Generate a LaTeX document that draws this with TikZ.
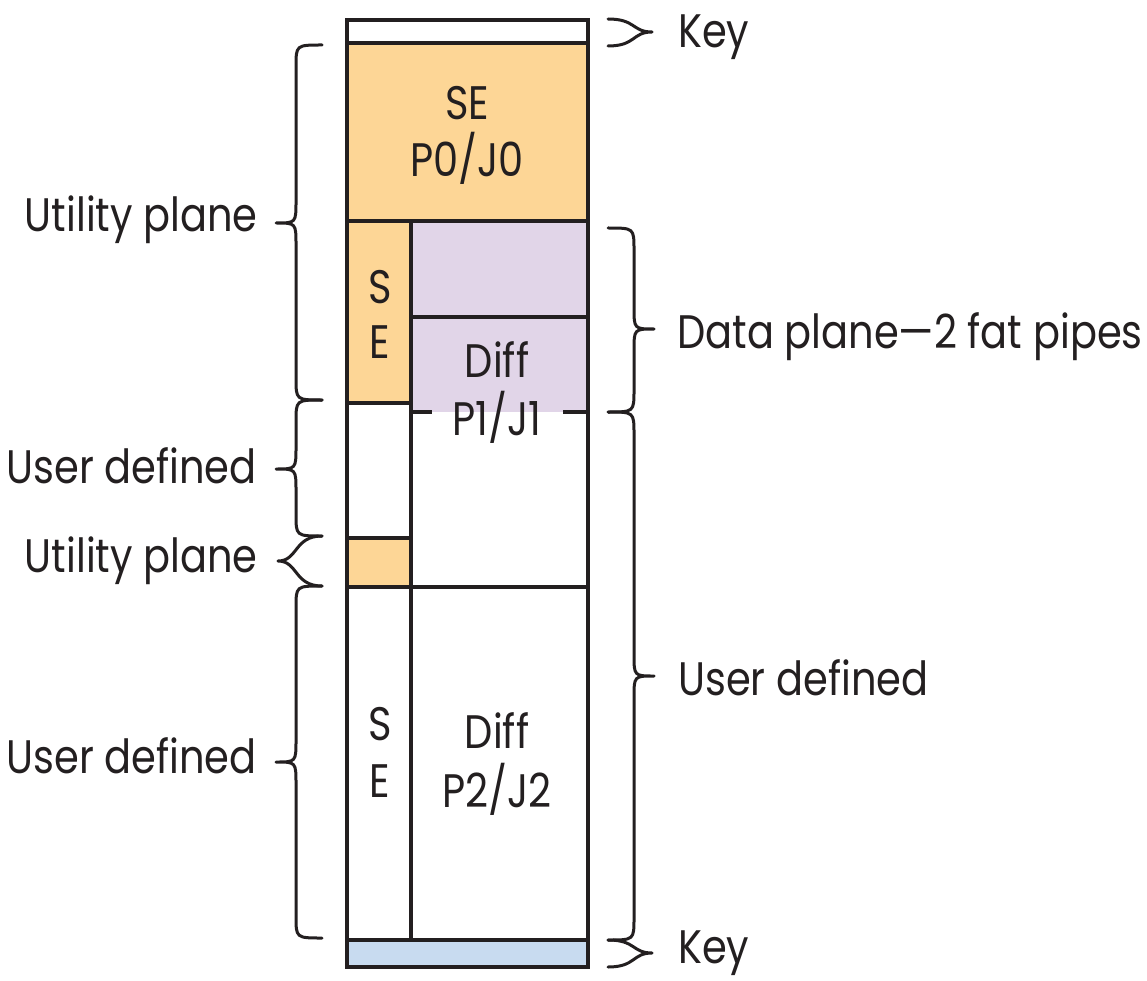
\documentclass[tikz,border=0pt]{standalone}
\usepackage{fontspec}
\setmainfont{Poppins}[FakeStretch=0.85]
\definecolor{orng}{RGB}{253,214,150}
\definecolor{purp}{RGB}{225,213,232}
\definecolor{blu}{RGB}{200,219,240}
\definecolor{ink}{RGB}{35,31,32}
% #1 x of ends, #2 direction (1 = points right, -1 = points left), #3 top y, #4 tip y, #5 bottom y, #6 curl radius
\newcommand{\curlybr}[6]{%
  \draw[bracestyle] (#1,#3) .. controls ({#1+(#2)*26},#3) .. ({#1+(#2)*26},{#3+#6})
    -- ({#1+(#2)*26},{#4-#6}) .. controls ({#1+(#2)*26},#4) .. ({#1+(#2)*46},#4)
    .. controls ({#1+(#2)*26},#4) .. ({#1+(#2)*26},{#4+#6})
    -- ({#1+(#2)*26},{#5-#6}) .. controls ({#1+(#2)*26},#5) .. (#1,#5);}
% small brace, shaped like an angle bracket with curled arms
\newcommand{\smallbr}[5]{%
  \draw[bracestyle] (#1,#3) .. controls ({#1+(#2)*28},#3) and ({#1+(#2)*24},#4) .. ({#1+(#2)*44},#4)
    .. controls ({#1+(#2)*24},#4) and ({#1+(#2)*28},#5) .. (#1,#5);}
\begin{document}
\begin{tikzpicture}[x=1pt,y=-1pt,
  box/.style={draw=ink, line width=3.5pt},
  bracestyle/.style={draw=ink, line width=3pt, line cap=round, line join=round},
  lbl/.style={font=\fontsize{47}{50}\selectfont, text=ink, inner sep=0pt}]
\useasboundingbox (0,0) rectangle (1147,981);
% fills
\fill[orng] (347,43) rectangle (588,221);
\fill[orng] (347,221) rectangle (411,403);
\fill[orng] (347,538) rectangle (411,587);
\fill[purp] (411,221) rectangle (588,412);
\fill[blu] (347,940) rectangle (588,967);
% lines
\draw[box] (347,20) rectangle (588,967);
\draw[box] (347,43) -- (588,43);
\draw[box] (347,221) -- (588,221);
\draw[box] (411,221) -- (411,940);
\draw[box] (411,317) -- (588,317);
\draw[box] (347,403) -- (411,403);
\draw[box] (347,538) -- (411,538);
\draw[box] (347,587) -- (588,587);
\draw[box] (347,940) -- (588,940);
\draw[box] (411,412) -- (432,412);
\draw[box] (563,412) -- (588,412);
% texts inside
\node[lbl, anchor=base] (se0) at (467,120) {SE};
\node[lbl, anchor=base] (p0) at (467,177) {P0/J0};
\node[lbl, anchor=base] (s1) at (380,303) {S};
\node[lbl, anchor=base] (e1) at (380,358) {E};
\node[lbl, anchor=base] (d1) at (497,377) {Diff};
\node[lbl, anchor=base] (p1) at (497,435) {P1/J1};
\node[lbl, anchor=base] (s2) at (380,740) {S};
\node[lbl, anchor=base] (e2) at (380,797) {E};
\node[lbl, anchor=base] (d2) at (497,748) {Diff};
\node[lbl, anchor=base] (p2) at (497,807) {P2/J2};
% labels
\node[lbl, anchor=base west] (keyt) at (678,48) {Key};
\node[lbl, anchor=base west] (data) at (677,348) {Data plane—2 fat pipes};
\node[lbl, anchor=base west] (udr) at (678,695) {User defined};
\node[lbl, anchor=base west] (keyb) at (678,963) {Key};
\node[lbl, anchor=base east] (up1) at (258,232) {Utility plane};
\node[lbl, anchor=base east] (ud1) at (257,483) {User defined};
\node[lbl, anchor=base east] (up2) at (258,572) {Utility plane};
\node[lbl, anchor=base east] (ud2) at (257,773) {User defined};
% braces right
\smallbr{608}{1}{19}{32}{46}
\curlybr{608}{1}{228}{329}{412}{22}
\curlybr{608}{1}{412}{676}{940}{22}
\smallbr{608}{1}{940}{953}{967}
% braces left
\curlybr{322}{-1}{45}{223}{400}{22}
\curlybr{322}{-1}{400}{469}{536}{22}
\smallbr{322}{-1}{536}{561}{586}
\curlybr{322}{-1}{586}{762}{938}{22}
\end{tikzpicture}
\end{document}
